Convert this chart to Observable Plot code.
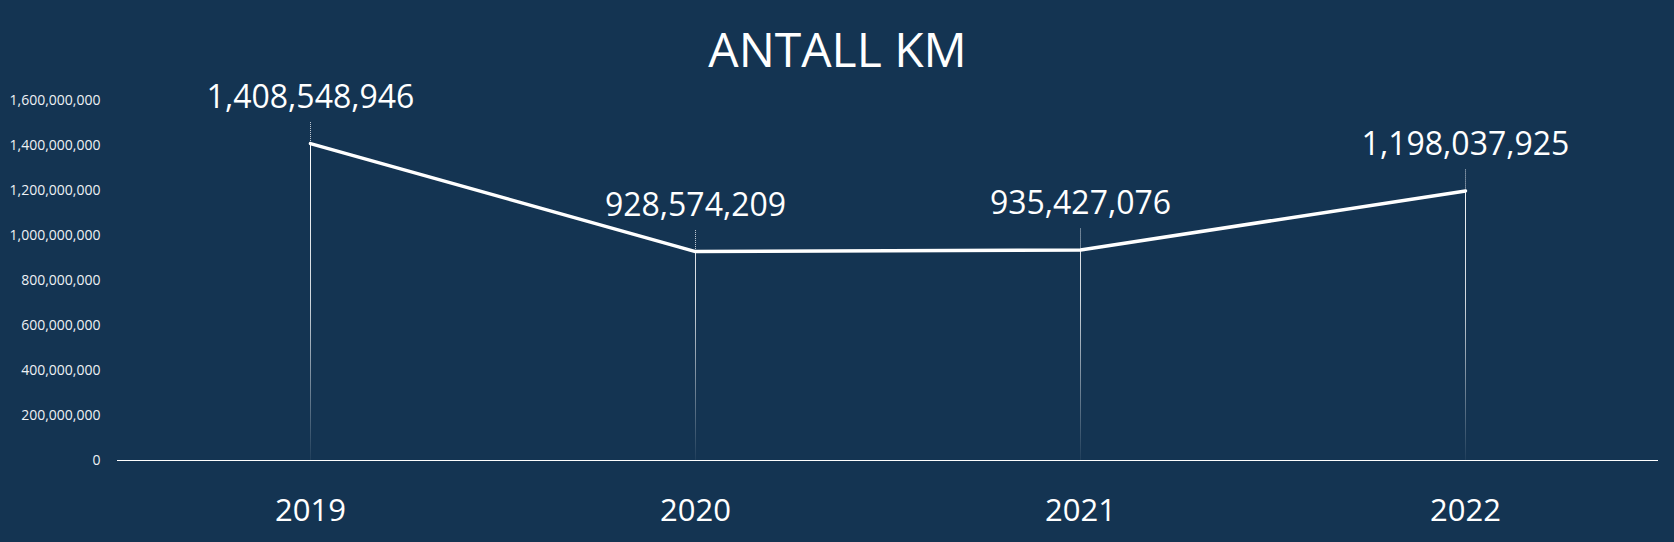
<!DOCTYPE html>
<html>
<head>
<meta charset="utf-8">
<script src="https://cdn.jsdelivr.net/npm/d3@7"></script>
<script src="https://cdn.jsdelivr.net/npm/@observablehq/plot@0.6"></script>
<style>
  html, body { margin: 0; padding: 0; background: #143452; }
  #chart svg { display: block; }
</style>
</head>
<body>
<div id="chart"></div>
<script>
const title = "ANTALL KM";
const years = ["2019", "2020", "2021", "2022"];
const km = [1408548946, 928574209, 935427076, 1198037925];
const yTicks = [0, 200000000, 400000000, 600000000, 800000000, 1000000000, 1200000000, 1400000000, 1600000000];

const data = years.map((year, i) => ({year, value: km[i]}));
const fmt = d3.format(",");
const yMax = yTicks[yTicks.length - 1];
const leader = yMax * 0.06;

const W = 1674, H = 542;
const mt = 100, mb = 82, ml = 117, mr = 16;
const titleShift = W / 2 - (ml + (W - ml - mr) / 2);

const defs = () => {
  const ns = "http://www.w3.org/2000/svg";
  const d = document.createElementNS(ns, "defs");
  const g = document.createElementNS(ns, "linearGradient");
  g.setAttribute("id", "fade");
  g.setAttribute("gradientUnits", "userSpaceOnUse");
  g.setAttribute("x1", 0); g.setAttribute("x2", 0);
  g.setAttribute("y1", mt + 40); g.setAttribute("y2", H - mb);
  [[0, 1], [0.5, 0.8], [1, 0.05]].forEach(([o, a]) => {
    const s = document.createElementNS(ns, "stop");
    s.setAttribute("offset", o);
    s.setAttribute("stop-color", "#ffffff");
    s.setAttribute("stop-opacity", a);
    g.appendChild(s);
  });
  d.appendChild(g);
  return d;
};

const chart = Plot.plot({
  width: W,
  height: H,
  marginTop: mt,
  marginBottom: mb,
  marginLeft: ml,
  marginRight: mr,
  style: {background: "#143452", color: "#ffffff", fontFamily: "'Open Sans', sans-serif"},
  x: {type: "point", domain: years, padding: 0.5, label: null},
  y: {domain: [0, yMax], label: null},
  marks: [
    defs,
    Plot.axisY({ticks: yTicks, tickFormat: fmt, tickSize: 0, tickPadding: 17, fontSize: 14, fill: "#eef1f5", label: null}),
    Plot.axisX({tickSize: 0, tickPadding: 38, fontSize: 31, label: null}),
    Plot.ruleX(data, {x: "year", y1: 0, y2: "value", stroke: "url(#fade)", strokeWidth: 1}),
    Plot.ruleX(data, {x: "year", y1: "value", y2: d => d.value + leader, stroke: "#c9d1da", strokeWidth: 1, strokeDasharray: "1,1"}),
    Plot.ruleY([0], {stroke: "#ffffff", strokeWidth: 1}),
    Plot.line(data, {x: "year", y: "value", stroke: "#ffffff", strokeWidth: 3.5, strokeLinejoin: "round"}),
    Plot.text(data, {x: "year", y: "value", text: d => fmt(d.value), lineAnchor: "bottom", dy: -36, fontSize: 32, fill: "#ffffff"}),
    Plot.text([title], {frameAnchor: "top", lineAnchor: "bottom", dx: titleShift, dy: -34, fontSize: 48, fill: "#ffffff"})
  ]
});
document.getElementById("chart").appendChild(chart);
</script>
</body>
</html>
